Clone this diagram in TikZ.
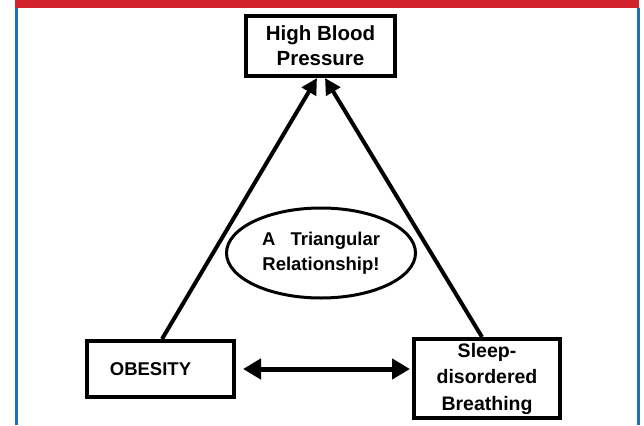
\documentclass[tikz,border=0pt]{standalone}
\usepackage{fontspec}
\setmainfont{Liberation Sans}
\usetikzlibrary{arrows.meta,shapes.geometric,calc}
\definecolor{barred}{HTML}{D2232A}
\definecolor{frameblue}{HTML}{1F6FB2}
\tikzset{
  box/.style={draw, line width=4pt, rectangle, inner sep=0pt, align=center, font=\bfseries},
  arr/.style={line width=4pt, -{Triangle[length=16pt,width=16pt]}},
  dblarr/.style={line width=5pt, {Triangle[length=18pt,width=20pt]}-{Triangle[length=18pt,width=20pt]}}
}
\begin{document}
\begin{tikzpicture}[x=1pt,y=-1pt]
\useasboundingbox (0,0) rectangle (644,425);
\fill[white] (0,0) rectangle (644,425);
% frame
\fill[barred] (15,0) rectangle (639,8);
\draw[frameblue, line width=3pt] (16.5,8) -- (16.5,425);
\draw[frameblue, line width=3pt] (638.5,8) -- (638.5,425);
% nodes
\node[box, minimum width=149pt, minimum height=60pt,
      font=\bfseries\fontsize{20.5}{25}\selectfont] (hbp) at (320.5,46) {High Blood\\Pressure};
\node[box, minimum width=147pt, minimum height=56pt,
      font=\bfseries\fontsize{18.5}{22}\selectfont] (obesity) at (160.5,369) {OBESITY\hspace{20pt}};
\node[box, minimum width=146pt, minimum height=79pt,
      font=\bfseries\fontsize{19.5}{26.5}\selectfont] (sleep) at (487,378.5) {Sleep-\\disordered\\Breathing};
\node[draw, ellipse, line width=3pt, inner sep=0pt, minimum width=189pt, minimum height=90pt,
      align=center, font=\bfseries\fontsize{18.5}{25}\selectfont] (tri) at (321,253)
      {\hbox to 118pt{A\hfill Triangular}\\Relationship!};
% connectors
\draw[arr] ([xshift=1.5pt]obesity.north) -- ([xshift=-3.5pt]hbp.south);
\draw[arr] ([xshift=-5pt]sleep.north) -- ([xshift=4.5pt]hbp.south);
\draw[dblarr, shorten <=7pt, shorten >=2pt] (obesity.east) -- (obesity.east -| sleep.west);
\end{tikzpicture}
\end{document}
